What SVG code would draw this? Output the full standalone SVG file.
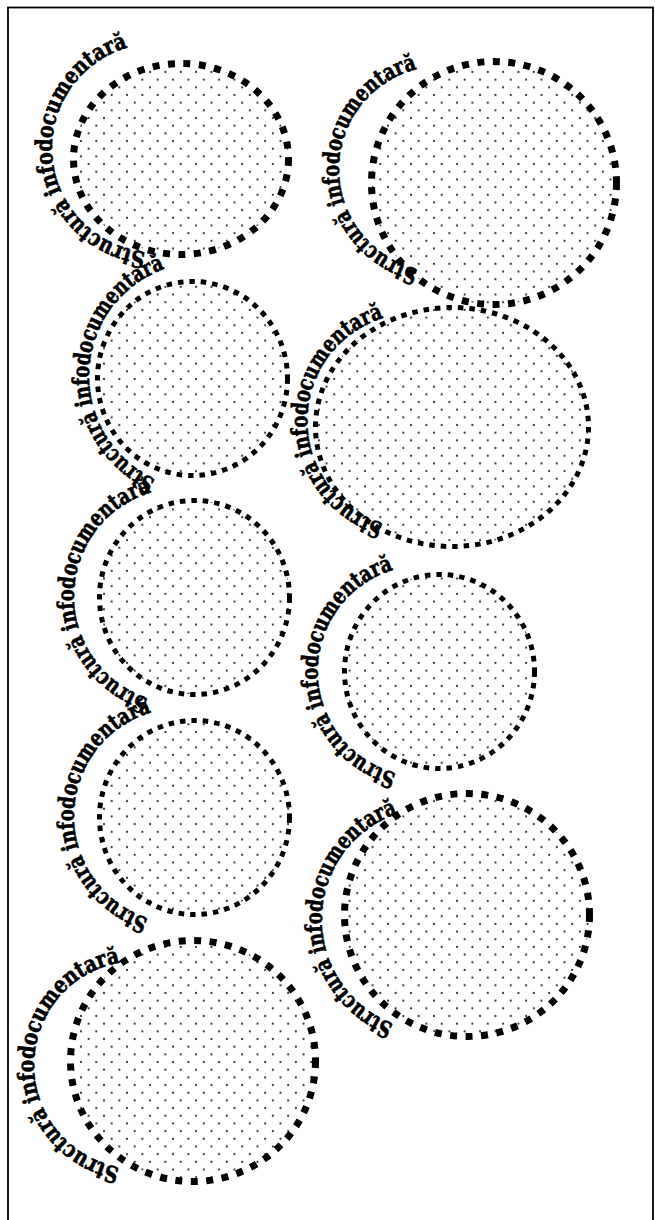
<svg xmlns="http://www.w3.org/2000/svg" xmlns:xlink="http://www.w3.org/1999/xlink" width="655" height="1220" viewBox="0 0 655 1220">
<style>
.node{fill:url(#dots);}
.thick{stroke:#000;stroke-width:7;stroke-dasharray:7 8.5;}
.thin{stroke:#000;stroke-width:5;stroke-dasharray:5.5 6;}
.lbl{font-family:"DejaVu Serif","Liberation Serif",serif;font-weight:bold;font-size:23px;fill:#000;stroke:#000;stroke-width:0.7;}
</style>
<defs>
<pattern id="dots" patternUnits="userSpaceOnUse" x="8.06" y="6.76" width="15.35" height="15.35">
<rect width="15.35" height="15.35" fill="#fff"/>
<circle cx="3.84" cy="3.84" r="1.1" fill="#333"/>
<circle cx="11.51" cy="11.51" r="1.1" fill="#333"/>
</pattern>
<path id="p1" d="M145.58,251.93 A104.5,104.5 0 1,1 167.42,44.07 A104.5,104.5 0 1,1 145.58,251.93"/>
<path id="p2" d="M418.13,269.2 A103,103 0 1,1 465.87,68.8 A103,103 0 1,1 418.13,269.2"/>
<path id="p3" d="M155.61,479.56 A113.8,113.8 0 1,1 249.99,272.44 A113.8,113.8 0 1,1 155.61,479.56"/>
<path id="p4" d="M383.36,523.58 A107.5,107.5 0 1,1 447.64,318.42 A107.5,107.5 0 1,1 383.36,523.58"/>
<path id="p5" d="M148.44,698.59 A108,108 0 1,1 215.36,493.21 A108,108 0 1,1 148.44,698.59"/>
<path id="p6" d="M396.36,773.35 A105.7,105.7 0 1,1 452.84,569.65 A105.7,105.7 0 1,1 396.36,773.35"/>
<path id="p7" d="M148.44,918.59 A108,108 0 1,1 215.36,713.21 A108,108 0 1,1 148.44,918.59"/>
<path id="p8" d="M393.66,1024.15 A112.1,112.1 0 1,1 476.54,815.85 A112.1,112.1 0 1,1 393.66,1024.15"/>
<path id="p9" d="M119.76,1167.39 A104,104 0 1,1 156.24,962.61 A104,104 0 1,1 119.76,1167.39"/>
</defs>
<rect x="0" y="0" width="655" height="1220" fill="#fff"/>
<rect id="frame" x="8" y="7.5" width="645" height="1230" fill="none" stroke="#000" stroke-width="1.8"/>
<g id="node1"><ellipse class="node thick" cx="181" cy="159" rx="107.5" ry="95.5"/><text class="lbl"><textPath href="#p1" xlink:href="#p1" textLength="288" lengthAdjust="spacingAndGlyphs">Structură infodocumentară</textPath></text></g>
<g id="node2"><ellipse class="node thick" cx="494" cy="183" rx="122.5" ry="121.5"/><text class="lbl"><textPath href="#p2" xlink:href="#p2" textLength="274" lengthAdjust="spacingAndGlyphs">Structură infodocumentară</textPath></text></g>
<g id="node3"><ellipse class="node thin" cx="192.5" cy="378.5" rx="95" ry="97"/><text class="lbl"><textPath href="#p3" xlink:href="#p3" textLength="270" lengthAdjust="spacingAndGlyphs">Structură infodocumentară</textPath></text></g>
<g id="node4"><ellipse class="node thin" cx="452" cy="427" rx="136.5" ry="119.5"/><text class="lbl"><textPath href="#p4" xlink:href="#p4" textLength="274" lengthAdjust="spacingAndGlyphs">Structură infodocumentară</textPath></text></g>
<g id="node5"><ellipse class="node thin" cx="194.5" cy="597.5" rx="95" ry="97"/><text class="lbl"><textPath href="#p5" xlink:href="#p5" textLength="274" lengthAdjust="spacingAndGlyphs">Structură infodocumentară</textPath></text></g>
<g id="node6"><ellipse class="node thin" cx="439.5" cy="671.5" rx="95" ry="97"/><text class="lbl"><textPath href="#p6" xlink:href="#p6" textLength="274" lengthAdjust="spacingAndGlyphs">Structură infodocumentară</textPath></text></g>
<g id="node7"><ellipse class="node thin" cx="194.5" cy="817.5" rx="95" ry="97"/><text class="lbl"><textPath href="#p7" xlink:href="#p7" textLength="274" lengthAdjust="spacingAndGlyphs">Structură infodocumentară</textPath></text></g>
<g id="node8"><ellipse class="node thick" cx="467" cy="915" rx="122.5" ry="121.5"/><text class="lbl"><textPath href="#p8" xlink:href="#p8" textLength="274" lengthAdjust="spacingAndGlyphs">Structură infodocumentară</textPath></text></g>
<g id="node9"><ellipse class="node thick" cx="193" cy="1061" rx="122.5" ry="120.5"/><text class="lbl"><textPath href="#p9" xlink:href="#p9" textLength="290" lengthAdjust="spacingAndGlyphs">Structură infodocumentară</textPath></text></g>
<g id="connectors"></g>
</svg>
